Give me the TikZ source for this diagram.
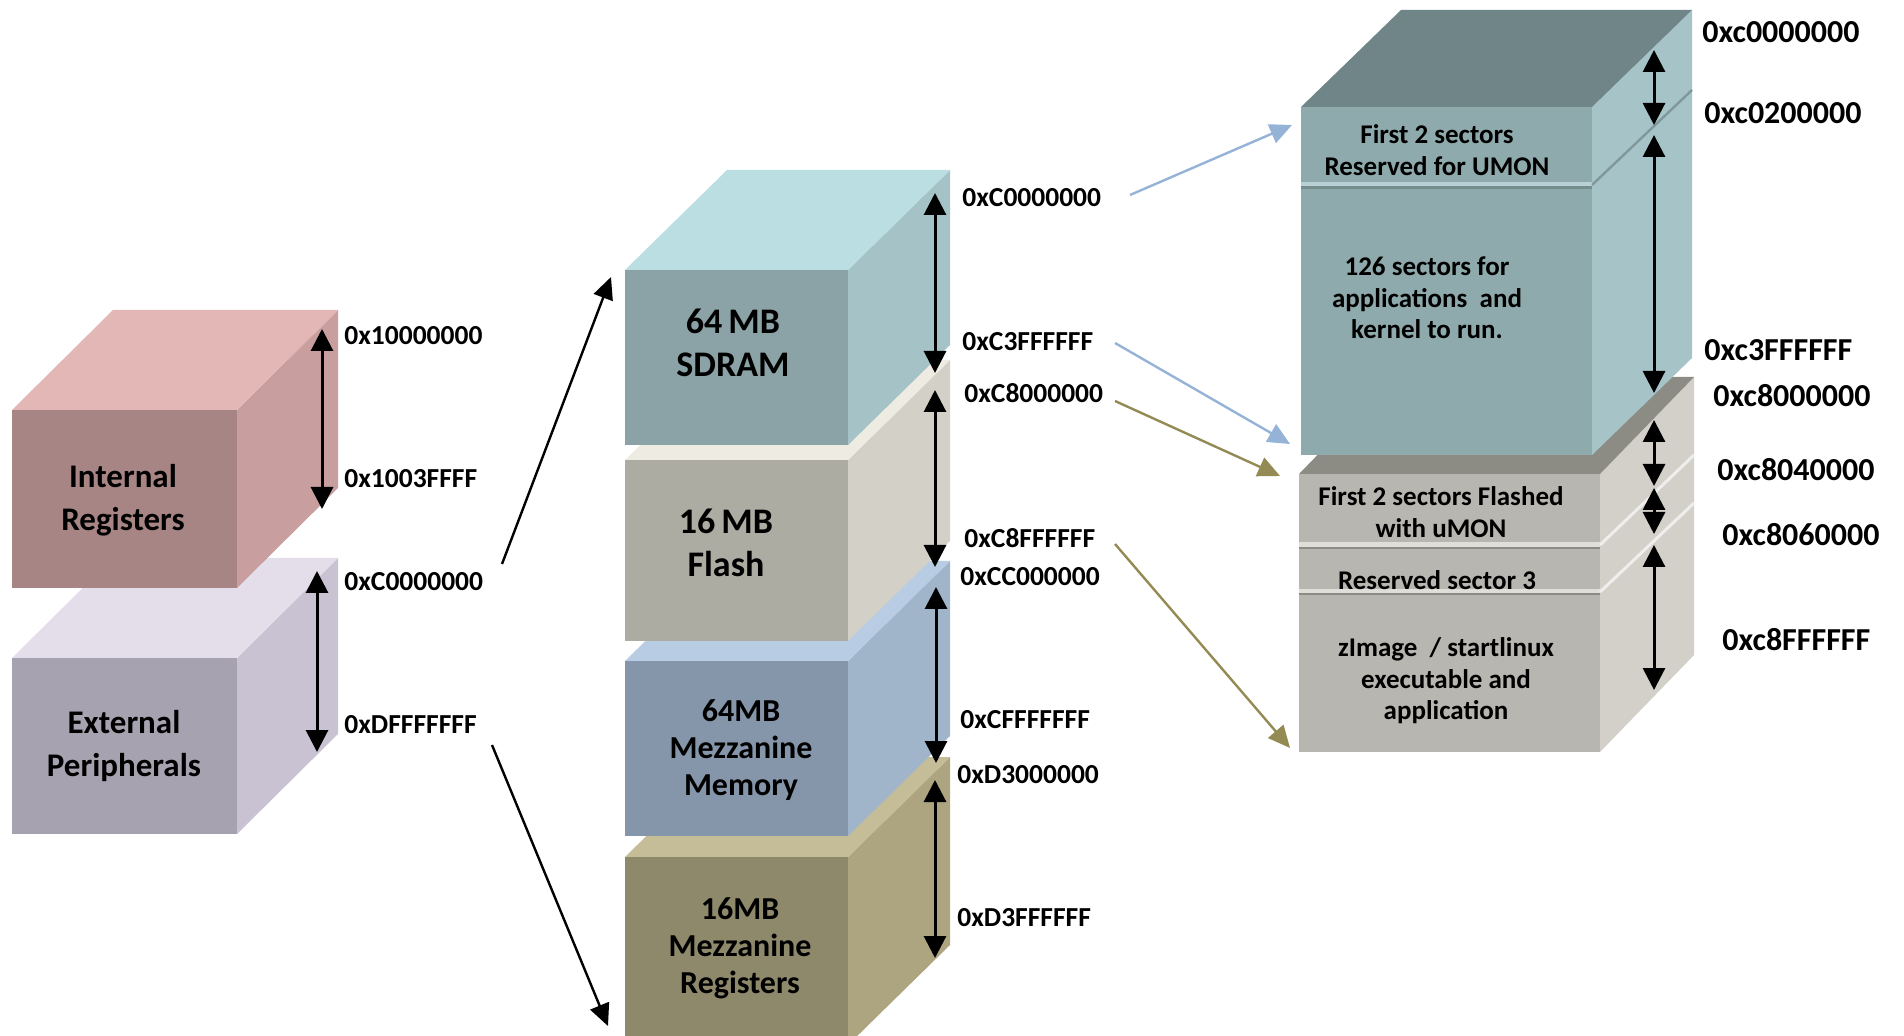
\documentclass[tikz,border=0pt]{standalone}
\usepackage{fontspec}
\setmainfont{Carlito}
\usetikzlibrary{arrows.meta}

% face colours: F = front, T = top, S = side
\definecolor{irF}{HTML}{A88585}\definecolor{irT}{HTML}{E4B7B7}\definecolor{irS}{HTML}{C89E9E}
\definecolor{epF}{HTML}{A6A2AF}\definecolor{epT}{HTML}{E4DEEB}\definecolor{epS}{HTML}{C8C2D2}
\definecolor{sdF}{HTML}{8BA3A6}\definecolor{sdT}{HTML}{BADEE2}\definecolor{sdS}{HTML}{A5C3C6}
\definecolor{flF}{HTML}{ADACA3}\definecolor{flT}{HTML}{EEECE2}\definecolor{flS}{HTML}{D2D0C7}
\definecolor{mmF}{HTML}{8696AA}\definecolor{mmT}{HTML}{B8CCE4}\definecolor{mmS}{HTML}{A0B4CA}
\definecolor{mrF}{HTML}{8F896C}\definecolor{mrT}{HTML}{C4BD97}\definecolor{mrS}{HTML}{ACA580}
\definecolor{rsF}{HTML}{8FAAAC}\definecolor{rsT}{HTML}{708587}\definecolor{rsS}{HTML}{A6C4C8}
\definecolor{rfF}{HTML}{B8B6B0}\definecolor{rfT}{HTML}{8C8C84}\definecolor{rfS}{HTML}{D2D0C8}
\definecolor{linkBlue}{HTML}{95B3D7}
\definecolor{linkOlive}{HTML}{948A54}

% a box seen from the front-right: front rectangle (x1,y1)-(x2,y2), depth (dx,dy)
% #1 x1  #2 y1  #3 x2  #4 y2  #5 dx  #6 dy  #7 front  #8 top  #9 side
\newcommand\memblock[9]{%
  \fill[#9] (#3,#2) -- ({#3+#5},{#2-#6}) -- ({#3+#5},{#4-#6}) -- (#3,#4) -- cycle;
  \fill[#8] (#1,#2) -- ({#1+#5},{#2-#6}) -- ({#3+#5},{#2-#6}) -- (#3,#2) -- cycle;
  \fill[#7] (#1,#2) rectangle (#3,#4);
}

\tikzset{
  addr/.style={anchor=west, inner sep=0pt, font=\bfseries\fontsize{13.75}{16}\selectfont},
  addrbig/.style={anchor=west, inner sep=0pt, font=\bfseries\fontsize{16}{18}\selectfont},
  blocktext/.style={align=center, inner sep=0pt, font=\bfseries\fontsize{16.5}{21.5}\selectfont},
  bigtext/.style={align=center, inner sep=0pt, font=\bfseries\fontsize{18}{21.5}\selectfont},
  mezztext/.style={align=center, inner sep=0pt, font=\bfseries\fontsize{16}{18.5}\selectfont},
  celltext/.style={align=center, inner sep=0pt, font=\bfseries\fontsize{13.5}{15.75}\selectfont},
  span/.style={{Triangle[length=11pt,width=11pt]}-{Triangle[length=11pt,width=11pt]}, line width=1.5pt, black},
  link/.style={-{Triangle[length=11pt,width=10pt]}, line width=1.2pt},
}

\begin{document}
\begin{tikzpicture}[x=0.5pt, y=-0.5pt]
\useasboundingbox (0,0) rectangle (1904,1036);
\clip (0,0) rectangle (1904,1036);

% ---------------- processor address map ----------------
\memblock{12}{658}{237}{834}{101}{100}{epF}{epT}{epS}
\memblock{12}{410}{237}{588}{101}{100}{irF}{irT}{irS}

\node[blocktext] (ir) at (123,500) {Internal\\Registers};
\node[blocktext] (ep) at (124,746) {External\\Peripherals};

\coordinate (irTop) at (322,329);
\coordinate (irBot) at (322,509);
\coordinate (epTop) at (317,571);
\coordinate (epBot) at (317,752);
\draw[span] (irTop) -- (irBot);
\draw[span] (epTop) -- (epBot);

\node[addr] (a1) at (344,336) {0x10000000};
\node[addr] (a2) at (344,479) {0x1003FFFF};
\node[addr] (a3) at (344,582) {0xC0000000};
\node[addr] (a4) at (344,725) {0xDFFFFFFF};

% ---------------- external peripheral space ----------------
\memblock{625}{857}{848}{1045}{102}{100}{mrF}{mrT}{mrS}
\memblock{625}{661}{848}{836}{102}{100}{mmF}{mmT}{mmS}
\memblock{625}{460}{848}{641}{102}{100}{flF}{flT}{flS}
\memblock{625}{270}{848}{445}{102}{100}{sdF}{sdT}{sdS}

\node[bigtext] (sdram) at (733,343) {64\,MB\\SDRAM};
\node[bigtext] (flash) at (726,543) {16\,MB\\Flash};
\node[mezztext] (mmem) at (741,750) {64MB\\Mezzanine\\Memory};
\node[mezztext] (mreg) at (740,948) {16MB\\Mezzanine\\Registers};

\coordinate (sdTop) at (935,193);  \coordinate (sdBot) at (935,373);
\coordinate (flTop) at (935,390);  \coordinate (flBot) at (935,567);
\coordinate (mmTop) at (936,587);  \coordinate (mmBot) at (936,763);
\coordinate (mrTop) at (935,780);  \coordinate (mrBot) at (935,958);
\draw[span] (sdTop) -- (sdBot);
\draw[span] (flTop) -- (flBot);
\draw[span] (mmTop) -- (mmBot);
\draw[span] (mrTop) -- (mrBot);

\node[addr] (b1) at (962,198) {0xC0000000};
\node[addr] (b2) at (962,342) {0xC3FFFFFF};
\node[addr] (b3) at (964,393) {0xC8000000};
\node[addr] (b4) at (964,538) {0xC8FFFFFF};
\node[addr] (b5) at (960,577) {0xCC000000};
\node[addr] (b6) at (960,720) {0xCFFFFFFF};
\node[addr] (b7) at (957,775) {0xD3000000};
\node[addr] (b8) at (957,918) {0xD3FFFFFF};

% ---------------- SDRAM and flash in detail ----------------
\memblock{1299}{474}{1600}{752}{94}{97}{rfF}{rfT}{rfS}
% flash sector boundaries
\fill[rfS!70!white] (1299,542) rectangle (1600,548);
\draw[rfT, line width=1pt] (1299,548) -- (1600,548);
\fill[rfS!70!white] (1299,589) rectangle (1600,594);
\draw[rfT, line width=1pt] (1299,594) -- (1600,594);
\draw[white!85!rfT, line width=1.5pt] (1600,545) -- (1694,455);
\draw[white!85!rfT, line width=1.5pt] (1600,592) -- (1694,503);

\memblock{1301}{107}{1592}{455}{100}{97}{rsF}{rsT}{rsS}
% boot sector boundary
\fill[rsS!80!white] (1301,182) rectangle (1592,186);
\draw[rsT!80!rsF, line width=1.5pt] (1301,188) -- (1592,188);
\draw[rsT!70!rsS, line width=1.2pt] (1592,185) -- (1692,90);

\node[celltext] (umon) at (1437,150) {First 2 sectors\\Reserved for UMON};
\node[celltext] (apps) at (1427,298) {126 sectors for\\applications\ \ and\\kernel to run.};
\node[celltext] (fumon) at (1441,512) {First 2 sectors Flashed\\with uMON};
\node[celltext] (res3) at (1437,580) {Reserved sector 3};
\node[celltext] (zimg) at (1446,681) {zImage\ \ / startlinux\\executable and\\application};

\coordinate (r1t) at (1654,50);   \coordinate (r1b) at (1654,125);
\coordinate (r2t) at (1654,135);  \coordinate (r2b) at (1654,393);
\coordinate (r3t) at (1654,420);  \coordinate (r3b) at (1654,486);
\coordinate (r4t) at (1654,488);  \coordinate (r4b) at (1654,534);
\coordinate (r5t) at (1654,545);  \coordinate (r5b) at (1654,690);
\draw[span] (r1t) -- (r1b);
\draw[span] (r2t) -- (r2b);
\draw[span] (r3t) -- (r3b);
\draw[span] (r4t) -- (r4b);
\draw[span] (r5t) -- (r5b);

\node[addrbig] (c1) at (1702,32)  {0xc0000000};
\node[addrbig] (c2) at (1704,113) {0xc0200000};
\node[addrbig] (c3) at (1704,350) {0xc3FFFFFF};
\node[addrbig] (c4) at (1713,396) {0xc8000000};
\node[addrbig] (c5) at (1717,470) {0xc8040000};
\node[addrbig] (c6) at (1722,535) {0xc8060000};
\node[addrbig] (c7) at (1722,640) {0xc8FFFFFF};

% ---------------- links between the views ----------------
\coordinate (toExtTop) at (611,277);
\coordinate (toExtBot) at (608,1026);
\draw[link, black] ([shift={(158,-18)}]a3.west) -- (toExtTop);
\draw[link, black] ([shift={(148,20)}]a4.west) -- (toExtBot);

\coordinate (toUmon) at (1292,125);
\coordinate (toSdEnd) at (1290,444);
\coordinate (toFlStart) at (1280,476);
\coordinate (toFlEnd) at (1290,748);
\draw[link, linkBlue] ([shift={(168,-3)}]b1.west) -- (toUmon);
\draw[link, linkBlue] ([shift={(153,1)}]b2.west) -- (toSdEnd);
\draw[link, linkOlive] ([shift={(151,8)}]b3.west) -- (toFlStart);
\draw[link, linkOlive] ([shift={(151,6)}]b4.west) -- (toFlEnd);
\end{tikzpicture}
\end{document}
